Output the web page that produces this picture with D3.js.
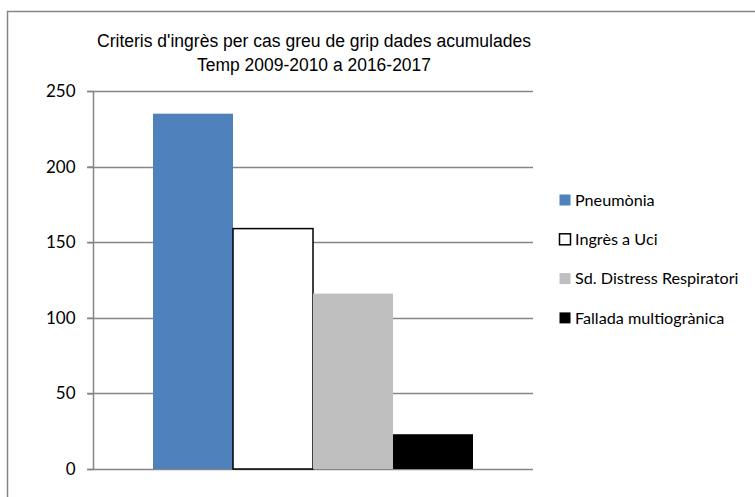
<!DOCTYPE html>
<html>
<head>
<meta charset="utf-8">
<script src="https://cdn.jsdelivr.net/npm/d3@7"></script>
<style>
  body { margin: 0; background: #fff; }
  text { fill: #000; }
</style>
</head>
<body>
<svg id="chart" width="755" height="497"></svg>
<script>
  var titleLines = ["Criteris d'ingrès per cas greu de grip dades acumulades", "Temp 2009-2010 a 2016-2017"];
  var series = ["Pneumònia", "Ingrès a Uci", "Sd. Distress Respiratori", "Fallada multiogrànica"];
  var values = [235, 159, 116, 23];
  var colors = ["#4f81bd", "#ffffff", "#bfbfbf", "#000000"];
  var strokes = ["none", "#000000", "none", "none"];
  var yTicks = [0, 50, 100, 150, 200, 250];

  (function () {
    var svg = d3.select("#chart");
    var gridColor = "#868686";

    // outer frame
    svg.append("rect")
      .attr("x", 7.5).attr("y", 11.5)
      .attr("width", 760).attr("height", 500)
      .attr("fill", "none")
      .attr("stroke", gridColor)
      .attr("stroke-width", 1.5);

    var plotL = 93, plotR = 533, plotT = 91, plotB = 469;

    var y = d3.scaleLinear().domain([0, 250]).range([plotB, plotT]);
    var x = d3.scaleBand().domain(series).range([plotL, plotR])
      .paddingInner(0).paddingOuter(0.75);

    // gridlines
    svg.append("g").selectAll("line").data(yTicks).enter().append("line")
      .attr("x1", plotL - 6).attr("x2", plotR)
      .attr("y1", function (d) { return Math.round(y(d)) + 0.5; })
      .attr("y2", function (d) { return Math.round(y(d)) + 0.5; })
      .attr("stroke", gridColor).attr("stroke-width", 1.5);

    // y axis
    var yAxis = d3.axisLeft(y).tickValues(yTicks).tickSize(6).tickPadding(12);
    var ag = svg.append("g").attr("transform", "translate(" + (plotL + 0.5) + ",0)").call(yAxis);
    ag.select(".domain").attr("stroke", gridColor).attr("stroke-width", 1.5).attr("d", "M0," + plotT + "V" + plotB);
    ag.selectAll(".tick line").attr("stroke", gridColor).attr("stroke-width", 1.5);
    ag.selectAll(".tick text")
      .attr("font-family", "Lato, sans-serif")
      .attr("font-size", 17)
      .attr("fill", "#000");

    // bars
    svg.append("g").selectAll("rect").data(values).enter().append("rect")
      .attr("x", function (d, i) { return x(series[i]); })
      .attr("y", function (d) { return y(d); })
      .attr("width", x.bandwidth())
      .attr("height", function (d) { return plotB - y(d); })
      .attr("fill", function (d, i) { return colors[i]; })
      .attr("stroke", function (d, i) { return strokes[i]; })
      .attr("stroke-width", 1.5);

    // title
    svg.append("g").selectAll("text").data(titleLines).enter().append("text")
      .attr("x", 314)
      .attr("y", function (d, i) { return 47 + i * 24; })
      .attr("text-anchor", "middle")
      .attr("font-family", "'Liberation Sans Narrow', 'Arial Narrow', sans-serif")
      .attr("font-size", 18)
      .attr("textLength", function (d, i) { return i === 0 ? 434 : 234; })
      .attr("lengthAdjust", "spacingAndGlyphs")
      .text(function (d) { return d; });

    // legend
    var leg = svg.append("g").selectAll("g").data(series).enter().append("g")
      .attr("transform", function (d, i) { return "translate(559," + (200 + i * 39.3) + ")"; });
    leg.append("rect")
      .attr("x", 0.5).attr("y", -5.5)
      .attr("width", 11).attr("height", 11)
      .attr("fill", function (d, i) { return colors[i]; })
      .attr("stroke", function (d, i) { return strokes[i]; })
      .attr("stroke-width", 1.5);
    leg.append("text")
      .attr("x", 16).attr("y", 0)
      .attr("dy", "0.35em")
      .attr("font-family", "Lato, sans-serif")
      .attr("font-size", 16.2)
      .text(function (d) { return d; });
  })();
</script>
</body>
</html>
